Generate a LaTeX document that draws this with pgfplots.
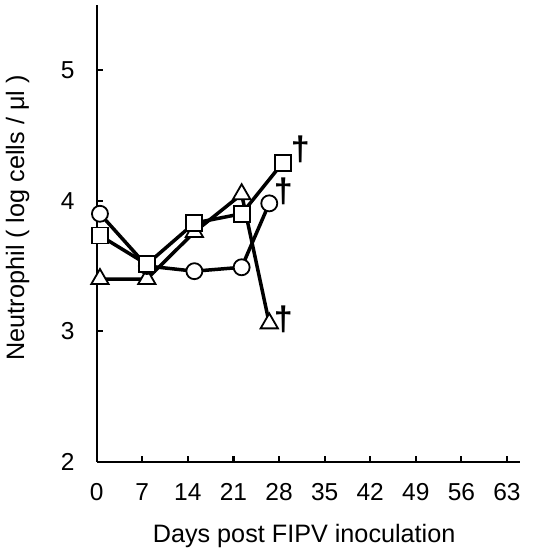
\documentclass[border=0pt]{standalone}
\usepackage{pgfplots}
\pgfplotsset{compat=1.18}
\usepackage{fontspec}
\setmainfont{Liberation Sans}
\begin{document}
\begin{tikzpicture}
\useasboundingbox (-96.7bp,-94.3bp) rectangle (445.3bp,461.7bp);
\begin{axis}[
  scale only axis, width=423.3bp, height=456.7bp,
  xmin=0, xmax=65, ymin=2, ymax=5.5,
  axis x line*=bottom, axis y line*=left,
  axis line style={line width=2.2bp},
  xtick={0,7,...,63}, ytick={2,3,4,5},
  tick align=inside, major tick length=6bp,
  tick style={line width=2.2bp, black},
  /pgf/number format/assume math mode=true,
  ticklabel style={font=\fontsize{24.5bp}{28bp}\selectfont},
  xticklabel style={anchor=center, yshift=-30bp},
  yticklabel style={anchor=center, xshift=-29bp},
  xlabel={Days post FIPV inoculation},
  ylabel={Neutrophil ( log cells / μl )},
  label style={font=\fontsize{25.2bp}{28bp}\selectfont},
  xlabel style={at={(axis description cs:0.49,-0.162)}, anchor=center},
  ylabel style={at={(axis description cs:-0.187,0.534)}, anchor=center},
  clip=false,
]
\addplot[black, line width=3.5bp, mark=triangle*, mark size=10bp, mark options={fill=white, line width=1.8bp, solid}]
  coordinates {(0.5,3.40) (7.7,3.40) (15.0,3.76) (22.26,4.05) (26.5,3.06)};
\addplot[black, line width=3.5bp, mark=*, mark size=8bp, mark options={fill=white, line width=1.8bp, solid}]
  coordinates {(0.5,3.90) (7.7,3.50) (15.0,3.46) (22.26,3.49) (26.5,3.98)};
\addplot[black, line width=3.5bp, mark=square*, mark size=8bp, mark options={fill=white, line width=1.8bp, solid}]
  coordinates {(0.5,3.733) (7.7,3.513) (15.0,3.829) (22.26,3.90) (28.55,4.29)};
\node[font=\bfseries\fontsize{34bp}{36bp}\selectfont, xshift=17.6bp, yshift=13.6bp] at (axis cs:28.55,4.29) {†};
\node[font=\bfseries\fontsize{34bp}{36bp}\selectfont, xshift=14bp, yshift=11.6bp] at (axis cs:26.5,3.98) {†};
\node[font=\bfseries\fontsize{34bp}{36bp}\selectfont, xshift=14bp, yshift=4bp] at (axis cs:26.5,3.06) {†};
\end{axis}
\end{tikzpicture}
\end{document}
